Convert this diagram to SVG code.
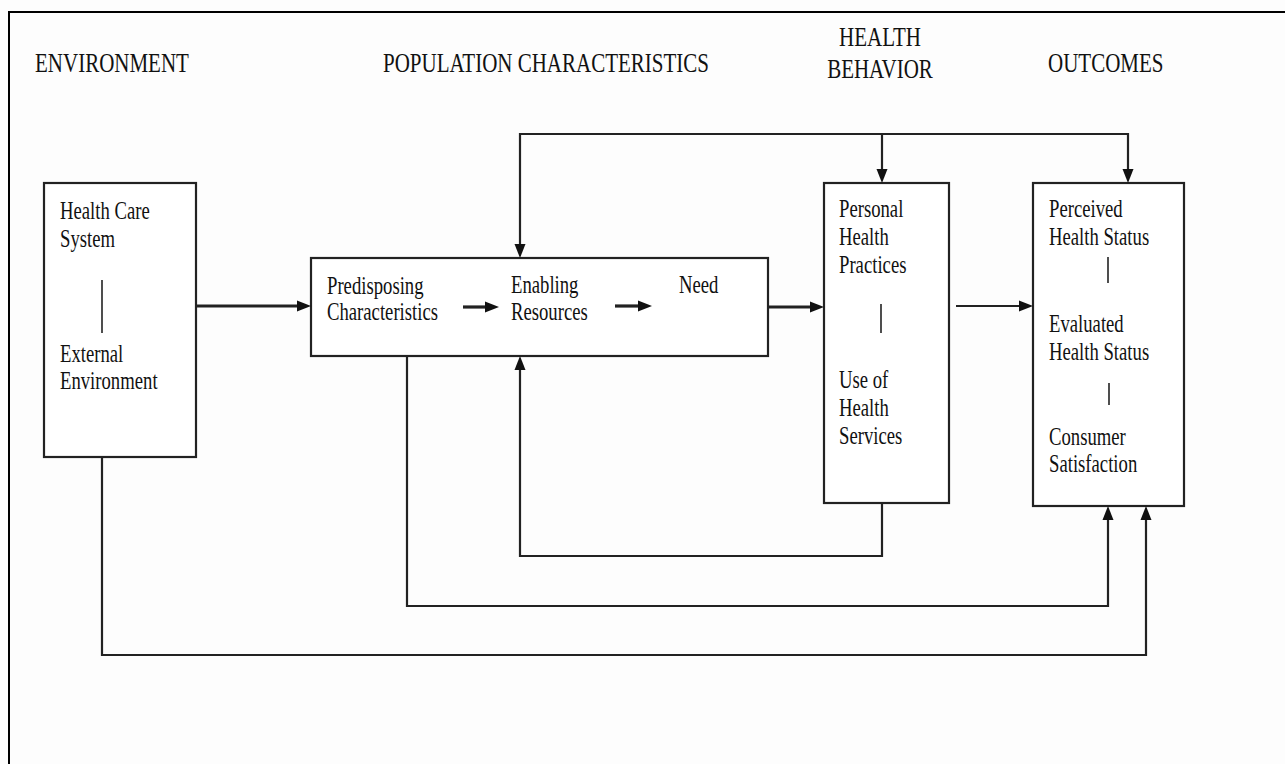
<svg xmlns="http://www.w3.org/2000/svg" width="1285" height="764" viewBox="0 0 1285 764">
  <style>
    .bg { fill: #fdfdfd; }
    .frame { fill: none; stroke: #000; stroke-width: 2; }
    .box { fill: #ffffff; stroke: #222; stroke-width: 2.2; }
    .sep { stroke: #222; stroke-width: 1.6; }
    .conn { fill: none; stroke: #222; stroke-width: 2.2; }
    .thick { stroke-width: 3.2; }
    .hdr { font-family: "Liberation Serif", "Times New Roman", serif; font-size: 21px; fill: #111; }
    .t { font-family: "Liberation Serif", "Times New Roman", serif; font-size: 18.7px; fill: #111; }
  </style>
  <defs>
    <marker id="ah" markerUnits="userSpaceOnUse" markerWidth="14" markerHeight="12" viewBox="0 0 14 12" refX="9" refY="6" orient="auto">
      <path d="M0,0.5 L14,6 L0,11.5 z" fill="#111"/>
    </marker>
  </defs>

  <rect class="bg" x="0" y="0" width="1285" height="764"/>
  <path class="frame" d="M9,764 V12 H1285"/>

  <g id="headers">
    <text class="hdr" transform="translate(35 72) scale(1 1.3)">ENVIRONMENT</text>
    <text class="hdr" transform="translate(383 72) scale(1 1.3)">POPULATION CHARACTERISTICS</text>
    <text class="hdr" text-anchor="middle" transform="translate(880 46) scale(1 1.3)"><tspan x="0" y="0">HEALTH</tspan><tspan x="0" y="24.6">BEHAVIOR</tspan></text>
    <text class="hdr" transform="translate(1048 72) scale(1 1.3)">OUTCOMES</text>
  </g>

  <g id="environment">
    <rect class="box" x="44" y="183" width="152" height="274"/>
    <text class="t" transform="translate(60 219) scale(1 1.3)"><tspan x="0" y="0">Health Care</tspan><tspan x="0" y="21.5">System</tspan></text>
    <line class="sep" x1="102" y1="280" x2="102" y2="333"/>
    <text class="t" transform="translate(60 362) scale(1 1.3)"><tspan x="0" y="0">External</tspan><tspan x="0" y="20.8">Environment</tspan></text>
  </g>

  <g id="population">
    <rect class="box" x="311" y="258" width="457" height="98"/>
    <text class="t" transform="translate(327 294) scale(1 1.3)"><tspan x="0" y="0">Predisposing</tspan><tspan x="0" y="20">Characteristics</tspan></text>
    <text class="t" transform="translate(511 293) scale(1 1.3)"><tspan x="0" y="0">Enabling</tspan><tspan x="0" y="20.8">Resources</tspan></text>
    <text class="t" transform="translate(679 293) scale(1 1.3)">Need</text>
  </g>

  <g id="behavior">
    <rect class="box" x="824" y="183" width="125" height="320"/>
    <text class="t" transform="translate(839 217) scale(1 1.3)"><tspan x="0" y="0">Personal</tspan><tspan x="0" y="21.5">Health</tspan><tspan x="0" y="43">Practices</tspan></text>
    <line class="sep" x1="881" y1="304" x2="881" y2="333"/>
    <text class="t" transform="translate(839 388) scale(1 1.3)"><tspan x="0" y="0">Use of</tspan><tspan x="0" y="21.5">Health</tspan><tspan x="0" y="43">Services</tspan></text>
  </g>

  <g id="outcomes">
    <rect class="box" x="1033" y="183" width="151" height="323"/>
    <text class="t" transform="translate(1049 217) scale(1 1.3)"><tspan x="0" y="0">Perceived</tspan><tspan x="0" y="21.5">Health Status</tspan></text>
    <line class="sep" x1="1108" y1="257" x2="1108" y2="283"/>
    <text class="t" transform="translate(1049 332) scale(1 1.3)"><tspan x="0" y="0">Evaluated</tspan><tspan x="0" y="21.5">Health Status</tspan></text>
    <line class="sep" x1="1109" y1="383" x2="1109" y2="405" stroke-width="3"/>
    <text class="t" transform="translate(1049 445) scale(1 1.3)"><tspan x="0" y="0">Consumer</tspan><tspan x="0" y="20.8">Satisfaction</tspan></text>
  </g>

  <g id="connectors">
    <path class="conn thick" d="M196,306 H306" marker-end="url(#ah)"/>
    <path class="conn thick" d="M768,307 H819" marker-end="url(#ah)"/>
    <path class="conn" d="M956,306 H1028" marker-end="url(#ah)"/>
    <path class="conn thick" d="M463,307 H494" marker-end="url(#ah)"/>
    <path class="conn thick" d="M615,306 H647" marker-end="url(#ah)"/>
    <path class="conn" d="M882,134 H520 V253" marker-end="url(#ah)"/>
    <path class="conn" d="M882,134 V178" marker-end="url(#ah)"/>
    <path class="conn" d="M882,134 H1128 V178" marker-end="url(#ah)"/>
    <path class="conn" d="M882,503 V556 H520 V361" marker-end="url(#ah)"/>
    <path class="conn" d="M407,356 V606 H1108 V511" marker-end="url(#ah)"/>
    <path class="conn" d="M102,457 V655 H1146 V511" marker-end="url(#ah)"/>
  </g>
</svg>
